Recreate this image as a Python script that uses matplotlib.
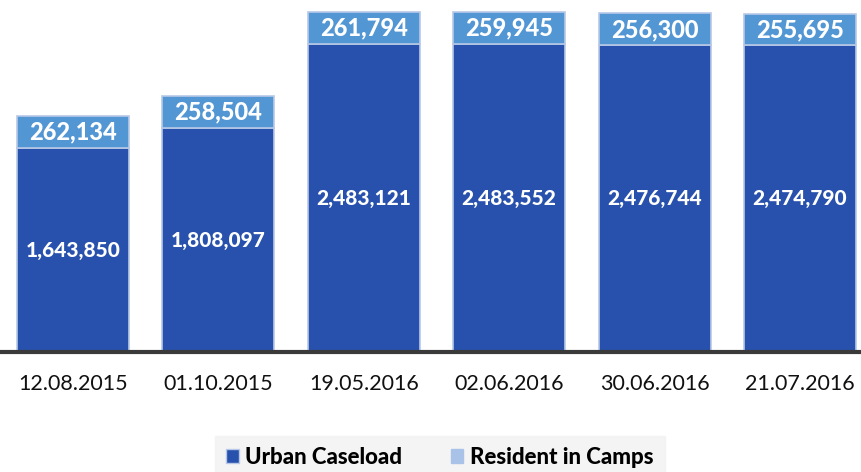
import matplotlib.pyplot as plt
from matplotlib.patches import Patch

dates = ['12.08.2015', '01.10.2015', '19.05.2016', '02.06.2016', '30.06.2016', '21.07.2016']
urban = [1643850, 1808097, 2483121, 2483552, 2476744, 2474790]
camps = [262134, 258504, 261794, 259945, 256300, 255695]

dark = '#2851ad'
light = '#5396d4'
edge = '#b7c8e6'

plt.rcParams['font.family'] = ['Lato', 'DejaVu Sans']

fig = plt.figure(figsize=(8.61, 4.72), dpi=100)
ax = fig.add_axes([0.0, 1 - 352 / 472, 1.0, 352 / 472])

x = list(range(len(dates)))
w = 0.77
ax.bar(x, urban, width=w, color=dark, edgecolor=edge, linewidth=1.2)
ax.bar(x, camps, width=w, bottom=urban, color=light, edgecolor=edge, linewidth=1.2)

for i in x:
    ax.text(i, urban[i] / 2, f'{urban[i]:,}', ha='center', va='center',
            color='white', fontsize=15, fontweight='black')
    ax.text(i, urban[i] + camps[i] / 2, f'{camps[i]:,}', ha='center', va='center',
            color='white', fontsize=17, fontweight='black')

ax.set_xlim(-0.502, 5.42)
ax.set_ylim(0, 2842000)
ax.set_xticks(x)
ax.set_xticklabels(dates, fontsize=15.5, color='#111111')
ax.tick_params(axis='x', length=0, pad=16)
ax.set_yticks([])
for s in ['top', 'right', 'left']:
    ax.spines[s].set_visible(False)
ax.spines['bottom'].set_color('#3a3a3a')
ax.spines['bottom'].set_linewidth(3)

handles = [Patch(facecolor=dark, edgecolor=edge), Patch(facecolor='#a9c3e8', edgecolor='#a9c3e8')]
leg = fig.legend(handles, ['Urban Caseload', 'Resident in Camps'], loc='lower center',
                 bbox_to_anchor=(440 / 861, -0.015), ncol=2, frameon=True,
                 prop={'weight': 'black', 'size': 16}, handlelength=0.55, handleheight=0.55,
                 handletextpad=0.3, columnspacing=2.2, borderpad=0.5, borderaxespad=0,
                 fancybox=False)
leg.get_frame().set_facecolor('#f2f2f2')
leg.get_frame().set_edgecolor('#f2f2f2')

fig.savefig('out.png', dpi=100)
